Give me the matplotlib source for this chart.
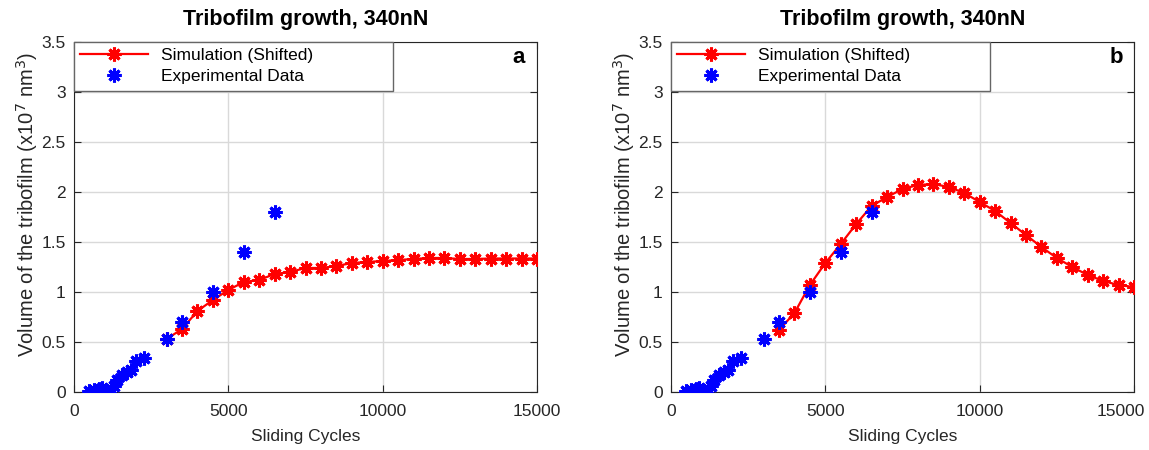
import matplotlib.pyplot as plt
from matplotlib.transforms import ScaledTranslation

plt.rcParams['font.family'] = ['Liberation Sans', 'DejaVu Sans']

# experimental data (same in both panels)
exp_x = [480, 640, 800, 910, 1190, 1290, 1400, 1560, 1730, 1840, 2000, 2270,
         3000, 3500, 4500, 5500, 6500]
exp_y = [0.01, 0.02, 0.03, 0.04, 0.03, 0.06, 0.12, 0.17, 0.20, 0.22, 0.31, 0.34,
         0.53, 0.70, 1.00, 1.40, 1.80]

# panel a simulation
sim_a_x = list(range(3000, 15001, 500))
sim_a_y = [0.53, 0.63, 0.81, 0.92, 1.02, 1.10, 1.12, 1.18, 1.20, 1.24, 1.24, 1.26,
           1.29, 1.30, 1.31, 1.32, 1.33, 1.34, 1.34, 1.33, 1.33, 1.335, 1.335,
           1.335, 1.335]

# panel b simulation
sim_b_x = list(range(3500, 15001, 500))
sim_b_y = [0.62, 0.79, 1.07, 1.29, 1.48, 1.68, 1.86, 1.95, 2.03, 2.07, 2.08, 2.05,
           1.99, 1.90, 1.81, 1.69, 1.57, 1.45, 1.34, 1.25, 1.17, 1.11, 1.07, 1.05]

panels = [('a', sim_a_x, sim_a_y), ('b', sim_b_x, sim_b_y)]

dark = (0.15, 0.15, 0.15)
star = (8, 2, 0)  # matlab-style asterisk

fig = plt.figure(figsize=(11.49, 4.5), dpi=100)
lefts = [74/1149, 671/1149]

for k, (left, (tag, sx, sy)) in enumerate(zip(lefts, panels)):
    ax = fig.add_axes([left, 58/450, 463/1149, 350/450])
    ax.plot(sx, sy, color='red', lw=1.6, marker=star, ms=10, mew=2.2,
            label='Simulation (Shifted)', zorder=3)
    ax.plot(exp_x, exp_y, ls='none', color='blue', marker=star, ms=10, mew=2.2,
            label='Experimental Data', zorder=4)

    ax.set_xlim(0, 15000)
    ax.set_ylim(0, 3.5)
    ax.set_xticks([0, 5000, 10000, 15000])
    ax.set_yticks([0, 0.5, 1, 1.5, 2, 2.5, 3, 3.5])
    ax.set_yticklabels(['0', '0.5', '1', '1.5', '2', '2.5', '3', '3.5'])
    ax.grid(True, color=(0.85, 0.85, 0.85), lw=1)
    ax.set_axisbelow(True)
    ax.tick_params(direction='in', top=True, right=True, labelsize=12.5,
                   colors=dark, length=5)
    ax.tick_params(axis='x', pad=9)
    ax.tick_params(axis='y', pad=6)
    for sp in ax.spines.values():
        sp.set_color(dark)

    # last x label pulled inward on the right panel
    if k == 1:
        lab = ax.get_xticklabels()[-1]
        lab.set_transform(lab.get_transform() +
                          ScaledTranslation(-13/100, 0, fig.dpi_scale_trans))

    ax.set_xlabel('Sliding Cycles', fontsize=12.5, color=dark, labelpad=7)
    ax.set_ylabel('Volume of the tribofilm (x10$^7$ nm$^3$)', fontsize=14.5,
                  color=dark)
    ax.yaxis.set_label_coords(-0.074, 0.535)
    ax.set_title('Tribofilm growth, 340nN', fontsize=15.5, fontweight='bold',
                 pad=12)
    ax.text(0.961, 0.955, tag, transform=ax.transAxes, fontsize=16,
            fontweight='bold', ha='center', va='center')

    leg = ax.legend(loc='upper left', bbox_to_anchor=(0, 1, 0.69, 0.0),
                    mode='expand', borderaxespad=0, fontsize=12.5,
                    handlelength=3.9, handletextpad=0.75, numpoints=1,
                    fancybox=False, framealpha=1, edgecolor=(0.4, 0.4, 0.4),
                    borderpad=0.35, labelspacing=0.35)
    leg.get_frame().set_linewidth(1)

fig.savefig('out.png', dpi=100)
